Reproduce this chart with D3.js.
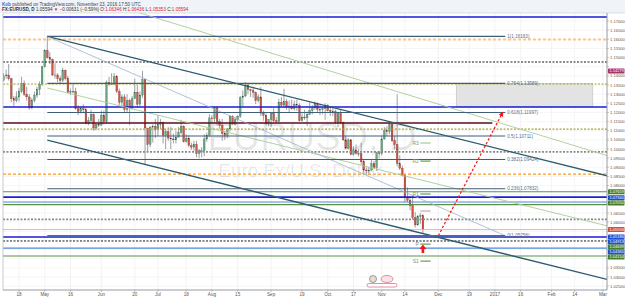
<!DOCTYPE html>
<html>
<head>
<meta charset="utf-8">
<script src="https://cdn.jsdelivr.net/npm/d3@7"></script>
<style>
  html, body { margin: 0; padding: 0; background: #fff; }
  svg { display: block; font-family: "Liberation Sans", Arial, sans-serif; }
</style>
</head>
<body>
<svg id="chart" width="625" height="299"></svg>
<script>
// --- Data ---
const firstBarDate = '2016-04-06';
// [open, high, low, close], one row per trading day
const bars = [
  [1.1385,1.1410,1.1350,1.1400],[1.1400,1.1440,1.1370,1.1375],[1.1375,1.1415,1.1370,1.1400],
  [1.1400,1.1435,1.1385,1.1405],[1.1405,1.1465,1.1375,1.1385],[1.1385,1.1390,1.1255,1.1275],[1.1275,1.1290,1.1235,1.1265],[1.1265,1.1315,1.1255,1.1285],
  [1.1285,1.1335,1.1260,1.1315],[1.1315,1.1395,1.1305,1.1360],[1.1360,1.1375,1.1290,1.1300],[1.1300,1.1340,1.1265,1.1285],[1.1285,1.1300,1.1215,1.1225],
  [1.1225,1.1280,1.1218,1.1265],[1.1265,1.1315,1.1255,1.1295],[1.1295,1.1340,1.1280,1.1325],[1.1325,1.1370,1.1295,1.1355],[1.1355,1.1455,1.1345,1.1450],
  [1.1450,1.1545,1.1445,1.1540],[1.1540,1.1616,1.1495,1.1500],[1.1500,1.1530,1.1465,1.1490],[1.1490,1.1495,1.1400,1.1405],[1.1405,1.1470,1.1385,1.1405],
  [1.1405,1.1415,1.1365,1.1385],[1.1385,1.1400,1.1360,1.1375],[1.1375,1.1445,1.1365,1.1430],[1.1430,1.1435,1.1375,1.1385],[1.1385,1.1400,1.1305,1.1310],
  [1.1310,1.1330,1.1295,1.1315],[1.1315,1.1355,1.1305,1.1315],[1.1315,1.1335,1.1215,1.1220],[1.1220,1.1240,1.1185,1.1205],[1.1205,1.1230,1.1195,1.1220],
  [1.1220,1.1245,1.1200,1.1215],[1.1215,1.1225,1.1135,1.1140],[1.1140,1.1175,1.1130,1.1155],[1.1155,1.1215,1.1145,1.1190],[1.1190,1.1195,1.1100,1.1115],
  [1.1115,1.1140,1.1105,1.1135],[1.1135,1.1165,1.1120,1.1130],[1.1130,1.1210,1.1130,1.1185],[1.1185,1.1210,1.1135,1.1150],[1.1150,1.1375,1.1140,1.1365],
  [1.1365,1.1395,1.1345,1.1355],[1.1355,1.1415,1.1350,1.1355],[1.1355,1.1415,1.1350,1.1395],[1.1395,1.1405,1.1305,1.1315],[1.1315,1.1330,1.1240,1.1255],
  [1.1255,1.1298,1.1233,1.1285],[1.1285,1.1300,1.1195,1.1215],[1.1215,1.1300,1.1200,1.1265],[1.1265,1.1275,1.1130,1.1225],[1.1225,1.1290,1.1215,1.1275],
  [1.1275,1.1385,1.1275,1.1310],[1.1310,1.1350,1.1225,1.1245],[1.1245,1.1315,1.1230,1.1295],[1.1295,1.1427,1.1280,1.1380],[1.1380,1.1385,1.0912,1.1115],
  [1.1115,1.1115,1.0985,1.1025],[1.1025,1.1125,1.1010,1.1120],[1.1120,1.1135,1.1035,1.1125],[1.1125,1.1165,1.1060,1.1105],[1.1105,1.1185,1.1070,1.1135],
  [1.1135,1.1165,1.1110,1.1145],[1.1145,1.1150,1.1030,1.1075],[1.1075,1.1110,1.1000,1.1095],[1.1095,1.1120,1.1045,1.1060],[1.1060,1.1120,1.1000,1.1055],
  [1.1055,1.1085,1.1030,1.1050],[1.1050,1.1100,1.1030,1.1065],[1.1065,1.1120,1.1065,1.1090],[1.1090,1.1160,1.1080,1.1125],[1.1125,1.1130,1.1035,1.1040],
  [1.1040,1.1080,1.1035,1.1060],[1.1060,1.1075,1.1010,1.1020],[1.1020,1.1035,1.0995,1.1010],[1.1010,1.1045,1.0990,1.1025],[1.1025,1.1045,1.0955,1.0975],
  [1.0975,1.1000,1.0950,1.0990],[1.0990,1.1010,1.0955,1.0990],[1.0990,1.1080,1.0960,1.1055],[1.1055,1.1090,1.1040,1.1075],[1.1075,1.1190,1.1065,1.1170],
  [1.1170,1.1185,1.1140,1.1165],[1.1165,1.1235,1.1145,1.1225],[1.1225,1.1235,1.1130,1.1150],[1.1150,1.1165,1.1110,1.1130],[1.1130,1.1165,1.1045,1.1085],
  [1.1085,1.1100,1.1050,1.1075],[1.1075,1.1115,1.1060,1.1110],[1.1110,1.1185,1.1095,1.1180],[1.1180,1.1185,1.1135,1.1135],[1.1135,1.1175,1.1130,1.1160],
  [1.1160,1.1185,1.1150,1.1180],[1.1180,1.1290,1.1170,1.1280],[1.1280,1.1320,1.1235,1.1290],[1.1290,1.1365,1.1285,1.1350],[1.1350,1.1355,1.1300,1.1325],
  [1.1325,1.1330,1.1285,1.1320],[1.1320,1.1340,1.1280,1.1310],[1.1310,1.1315,1.1245,1.1265],[1.1265,1.1300,1.1255,1.1285],[1.1285,1.1340,1.1180,1.1195],
  [1.1195,1.1210,1.1155,1.1185],[1.1185,1.1195,1.1130,1.1140],[1.1140,1.1165,1.1125,1.1160],[1.1160,1.1200,1.1120,1.1195],[1.1195,1.1225,1.1145,1.1155],
  [1.1155,1.1175,1.1145,1.1150],[1.1150,1.1275,1.1145,1.1255],[1.1255,1.1285,1.1230,1.1240],[1.1240,1.1330,1.1225,1.1260],[1.1260,1.1275,1.1215,1.1230],
  [1.1230,1.1265,1.1200,1.1235],[1.1235,1.1270,1.1215,1.1220],[1.1220,1.1265,1.1210,1.1245],[1.1245,1.1270,1.1210,1.1240],[1.1240,1.1250,1.1150,1.1155],
  [1.1155,1.1195,1.1150,1.1175],[1.1175,1.1215,1.1160,1.1170],[1.1170,1.1205,1.1125,1.1190],[1.1190,1.1255,1.1185,1.1210],[1.1210,1.1240,1.1190,1.1225],
  [1.1225,1.1260,1.1215,1.1250],[1.1250,1.1255,1.1200,1.1215],[1.1215,1.1240,1.1185,1.1215],[1.1215,1.1230,1.1190,1.1220],[1.1220,1.1250,1.1160,1.1240],
  [1.1240,1.1245,1.1205,1.1210],[1.1210,1.1235,1.1180,1.1205],[1.1205,1.1235,1.1180,1.1205],[1.1205,1.1215,1.1135,1.1145],[1.1145,1.1195,1.1120,1.1200],
  [1.1200,1.1215,1.1135,1.1145],[1.1145,1.1150,1.1045,1.1050],[1.1050,1.1070,1.1000,1.1005],[1.1005,1.1060,1.1000,1.1050],[1.1050,1.1055,1.0965,1.0970],
  [1.0970,1.1015,1.0965,1.0995],[1.0995,1.1025,1.0970,1.0975],[1.0975,1.1000,1.0960,1.0975],[1.0975,1.1035,1.0915,1.0930],[1.0930,1.0945,1.0865,1.0885],
  [1.0885,1.0900,1.0860,1.0880],[1.0880,1.0900,1.0860,1.0885],[1.0885,1.0945,1.0880,1.0920],[1.0920,1.0935,1.0895,1.0900],[1.0900,1.0985,1.0880,1.0980],
  [1.0980,1.0990,1.0950,1.0975],[1.0975,1.1075,1.0965,1.1055],[1.1055,1.1120,1.1050,1.1100],[1.1100,1.1125,1.1070,1.1095],[1.1095,1.1145,1.1080,1.1135],
  [1.1135,1.1140,1.1040,1.1045],[1.1045,1.1070,1.1000,1.1025],[1.1025,1.1300,1.0905,1.0920],[1.0920,1.0965,1.0885,1.0895],[1.0895,1.0910,1.0850,1.0855],
  [1.0855,1.0865,1.0710,1.0735],[1.0735,1.0790,1.0710,1.0720],[1.0720,1.0740,1.0665,1.0690],[1.0690,1.0745,1.0615,1.0625],[1.0625,1.0655,1.0570,1.0585],
  [1.0585,1.0640,1.0580,1.0630],[1.0630,1.0650,1.0590,1.0635],[1.06346,1.06436,1.05353,1.05594]
];

const xTickDates  = ['2016-04-18','2016-05-02','2016-05-16','2016-06-01','2016-06-20','2016-07-01','2016-07-18','2016-08-01','2016-08-15','2016-09-01','2016-09-19',
                     '2016-10-03','2016-10-17','2016-11-01','2016-11-14','2016-12-01','2016-12-19','2017-01-02','2017-01-16','2017-02-01','2017-02-14','2017-03-01'];
const xTickLabels = ['18','May','16','Jun','20','Jul','18','Aug','15','Sep','19','Oct','17','Nov','14','Dec','19','2017','16','Feb','14','Mar'];

// Full-width horizontal levels
const levelPrices = [1.1722, 1.1599, 1.1476, 1.1356, 1.1230, 1.1109, 1.0984, 1.0863, 1.0766, 1.0737, 1.0710, 1.0696, 1.0615, 1.0519, 1.0497, 1.0458, 1.0415];
const levelKinds  = ['blue','orangeLight','blackDash','oliveDash','blue','oliveDash','grayDash','orange','green','blue','lightBlue','green','grayDash','blue','blackDash','lightBlue','green'];

// Fibonacci retracement drawn from the May high to the projected low
const fibStart = ['2016-05-03', 1.16163];
const fibEnd   = ['2017-01-06', 1.05258];
const fibRatios = [1, 0.764, 0.618, 0.5, 0.382, 0.236, 0];

// Trend lines: [date, price] anchors, extended across the plot
const trendUpper  = [['2016-05-03', 1.1616], ['2016-11-04', 1.1150]];
const trendLower  = [['2016-05-03', 1.1049], ['2016-11-04', 1.0583]];
const greenUpper  = [['2016-06-22', 1.1744], ['2016-11-21', 1.1280]];
const greenLower  = [['2016-05-03', 1.1334], ['2016-11-21', 1.0835]];

const maroonLine  = [['2016-04-01', 1.1142], ['2016-12-30', 1.1142]];
const grayBox     = [['2016-12-12', 1.1359], ['2017-02-23', 1.1232]];
const forecastArrow = [['2016-12-01', 1.0526], ['2017-01-05', 1.1200]];
const buyMarker   = ['2016-11-23', 1.0453];

// Pivot levels shown next to the last bars
const pivotNames  = ['R3', 'R2', 'R1', 'P', 'S1', 'S2'];
const pivotPrices = [1.1033, 1.0934, 1.0754, 1.0661, 1.0480, 1.0387];
const pivotRange  = ['2016-11-22', '2016-11-28'];

// Price tags on the right scale
const tagPrices = [1.1427, 1.07659, 1.0734, 1.0705, 1.05594, 1.05186, 1.04913, 1.04639, 1.04365, 1.04092];
const tagTexts  = ['1.14279', '1.07659', '1.07340', '1.07050', '1.05594', '1.05186', '1.04913', '1.04639', '1.04365', '1.04154'];
const tagKinds  = ['magenta', 'green', 'blue', 'green', 'red', 'blue', 'blue', 'green', 'blue', 'green'];

// --- Layout ---
const W = 625, H = 299;
const plot = { left: 3, right: 607, top: 13, bottom: 290 };

const svg = d3.select('#chart');

// trading-day index relative to Mon 2016-04-18 (weekends skipped)
const refDay = Date.UTC(2016, 3, 18);
function tradingIndex(s) {
  const p = s.split('-').map(Number);
  const days = Math.round((Date.UTC(p[0], p[1] - 1, p[2]) - refDay) / 86400000);
  const weeks = Math.floor(days / 7);
  const rem = days - weeks * 7;
  return weeks * 5 + Math.min(rem, 5);
}

const x = d3.scaleLinear().domain([0, tradingIndex('2017-03-01')]).range([19, 603]);
const y = d3.scaleLinear().domain([1.0229, 1.1744]).range([plot.bottom, plot.top]);
const X = d => x(tradingIndex(d));

const colors = {
  up: '#6ba583', upBorder: '#225437',
  down: '#d75442', downBorder: '#5b1a13',
  wick: '#5d606b',
  grid: '#eef0f2',
  text: '#555'
};
const levelStyle = {
  blue:        { stroke: '#1b1bd8', width: 1.6, dash: null },
  lightBlue:   { stroke: '#4f86e0', width: 1.1, dash: null },
  green:       { stroke: '#5e9146', width: 1.1, dash: null },
  blackDash:   { stroke: '#1a1a1a', width: 1.1, dash: '2,1.5' },
  oliveDash:   { stroke: '#aaa12c', width: 1.1, dash: '2,1.5' },
  grayDash:    { stroke: '#8a8a8a', width: 1.8, dash: '2,1.5' },
  orange:      { stroke: '#ff9a1f', width: 1.1, dash: '3,2' },
  orangeLight: { stroke: '#ffc58a', width: 2.2, dash: '3,2' }
};
const tagColor = { magenta: '#a8336d', green: '#4a7c2c', blue: '#1f4fd0', red: '#d94b3c' };

// --- Background / header ---
svg.append('rect').attr('width', W).attr('height', H).attr('fill', '#fff');
svg.append('rect').attr('width', W).attr('height', plot.top).attr('fill', '#f0f3f7');

const head1 = svg.append('text').attr('x', 2).attr('y', 5.5).attr('font-size', 4.6).attr('fill', '#444');
head1.append('tspan').attr('fill', '#2f6fd0').attr('font-weight', 'bold').text('Kob');
head1.append('tspan').text(' published on TradingView.com, November 23, 2016 17:50 UTC');

const head2 = svg.append('text').attr('x', 2).attr('y', 11).attr('font-size', 4.6).attr('fill', '#333');
head2.append('tspan').attr('font-weight', 'bold').text('FX:EURUSD, D ');
head2.append('tspan').text('1.05594 ');
head2.append('tspan').attr('fill', '#d23').text('\u25BC');
head2.append('tspan').text(' \u22120.00631 (\u22120.59%) O:');
head2.append('tspan').attr('fill', '#d23').text('1.06346');
head2.append('tspan').text(' H:');
head2.append('tspan').attr('fill', '#d23').text('1.06436');
head2.append('tspan').text(' L:');
head2.append('tspan').attr('fill', '#d23').text('1.05353');
head2.append('tspan').text(' C:');
head2.append('tspan').attr('fill', '#d23').text('1.05594');

// --- Clip ---
svg.append('clipPath').attr('id', 'plotClip').append('rect')
  .attr('x', plot.left).attr('y', plot.top)
  .attr('width', plot.right - plot.left).attr('height', plot.bottom - plot.top);

const g = svg.append('g').attr('clip-path', 'url(#plotClip)');

// --- Grid ---
const yTicks = d3.range(1.025, 1.1701, 0.005);
g.append('g').selectAll('line').data(xTickDates).join('line')
  .attr('x1', d => X(d)).attr('x2', d => X(d))
  .attr('y1', plot.top).attr('y2', plot.bottom)
  .attr('stroke', colors.grid).attr('stroke-width', 0.8);
g.append('g').selectAll('line').data(yTicks).join('line')
  .attr('x1', plot.left).attr('x2', plot.right)
  .attr('y1', d => y(d)).attr('y2', d => y(d))
  .attr('stroke', '#f3f4f6').attr('stroke-width', 0.8);

// --- Watermark ---
g.append('text').attr('x', 312).attr('y', 150).attr('text-anchor', 'middle')
  .attr('font-size', 38).attr('fill', '#000').attr('fill-opacity', 0.09)
  .text('EURUSD, D');
g.append('text').attr('x', 300).attr('y', 177).attr('text-anchor', 'middle')
  .attr('font-size', 19).attr('fill', '#000').attr('fill-opacity', 0.09)
  .text('Euro Fx/U.S. Dollar');

// --- Gray target box ---
g.append('rect')
  .attr('x', X(grayBox[0][0])).attr('y', y(grayBox[0][1]))
  .attr('width', X(grayBox[1][0]) - X(grayBox[0][0]))
  .attr('height', y(grayBox[1][1]) - y(grayBox[0][1]))
  .attr('fill', '#e3e3e3').attr('stroke', '#c8c8c8').attr('stroke-width', 0.8);

// --- Candles ---
const i0 = tradingIndex(firstBarDate);
const bw = 1.7;
const candles = g.append('g').selectAll('g').data(bars).join('g');
candles.append('line')
  .attr('x1', (d, i) => x(i0 + i)).attr('x2', (d, i) => x(i0 + i))
  .attr('y1', d => y(d[1])).attr('y2', d => y(d[2]))
  .attr('stroke', colors.wick).attr('stroke-width', 0.6);
candles.append('rect')
  .attr('x', (d, i) => x(i0 + i) - bw / 2)
  .attr('y', d => y(Math.max(d[0], d[3])))
  .attr('width', bw)
  .attr('height', d => Math.max(0.6, Math.abs(y(d[0]) - y(d[3]))))
  .attr('fill', d => d[3] >= d[0] ? colors.up : colors.down)
  .attr('stroke', d => d[3] >= d[0] ? colors.upBorder : colors.downBorder)
  .attr('stroke-width', 0.25);

// --- Horizontal levels ---
g.append('g').selectAll('line').data(levelPrices).join('line')
  .attr('x1', plot.left).attr('x2', plot.right)
  .attr('y1', d => y(d)).attr('y2', d => y(d))
  .attr('stroke', (d, i) => levelStyle[levelKinds[i]].stroke)
  .attr('stroke-width', (d, i) => levelStyle[levelKinds[i]].width)
  .attr('stroke-dasharray', (d, i) => levelStyle[levelKinds[i]].dash);

// last price line
g.append('line').attr('x1', plot.left).attr('x2', plot.right)
  .attr('y1', y(bars[bars.length - 1][3])).attr('y2', y(bars[bars.length - 1][3]))
  .attr('stroke', '#f2a9a3').attr('stroke-width', 0.9);

g.append('line')
  .attr('x1', X(maroonLine[0][0])).attr('x2', X(maroonLine[1][0]))
  .attr('y1', y(maroonLine[0][1])).attr('y2', y(maroonLine[1][1]))
  .attr('stroke', '#5a0d1c').attr('stroke-width', 1.4);

// --- Trend lines (extended to the right plot edge) ---
function extended(pair) {
  const x1 = X(pair[0][0]), y1 = y(pair[0][1]), x2 = X(pair[1][0]), y2 = y(pair[1][1]);
  const k = (y2 - y1) / (x2 - x1);
  return [x1, y1, plot.right + 5, y1 + k * (plot.right + 5 - x1)];
}
function drawTrend(pair, stroke, width, extendLeft) {
  const e = extended(pair);
  let xs = e[0], ys = e[1];
  if (extendLeft) { const k = (e[3] - e[1]) / (e[2] - e[0]); xs = plot.left - 5; ys = e[1] + k * (xs - e[0]); }
  g.append('line').attr('x1', xs).attr('y1', ys).attr('x2', e[2]).attr('y2', e[3])
    .attr('stroke', stroke).attr('stroke-width', width);
}
drawTrend(greenUpper, '#a9cc95', 0.9, true);
drawTrend(greenLower, '#a9cc95', 0.9, false);
drawTrend(trendUpper, '#2a5b6e', 1.3, false);
drawTrend(trendLower, '#2a5b6e', 1.3, false);

// --- Fibonacci retracement ---
const fx1 = X(fibStart[0]), fx2 = X(fibEnd[0]);
const fibRange = fibStart[1] - fibEnd[1];
g.append('line').attr('x1', fx1).attr('y1', y(fibStart[1])).attr('x2', fx2).attr('y2', y(fibEnd[1]))
  .attr('stroke', '#9db3cf').attr('stroke-width', 0.8);
const fibG = g.append('g').selectAll('g').data(fibRatios).join('g');
fibG.append('line')
  .attr('x1', fx1).attr('x2', fx2)
  .attr('y1', r => y(fibEnd[1] + r * fibRange)).attr('y2', r => y(fibEnd[1] + r * fibRange))
  .attr('stroke', r => r === 0 ? '#3d6fa8' : '#3f5f78').attr('stroke-width', r => r === 0 ? 1.6 : 1.1);
fibG.append('text')
  .attr('x', fx2 + 2).attr('y', r => y(fibEnd[1] + r * fibRange) + 1.6)
  .attr('font-size', 4.6).attr('fill', '#5a6f86')
  .text(r => r + '(' + (fibEnd[1] + r * fibRange).toFixed(5) + ')');

// --- Pivots ---
const px1 = X(pivotRange[0]), px2 = X(pivotRange[1]);
const pivotColor = { R3: '#9cc488', R2: '#5e9146', R1: '#5e9146', P: '#c799ab', S1: '#5e9146', S2: '#5e9146' };
const pv = g.append('g').selectAll('g').data(pivotPrices).join('g');
pv.append('line').attr('x1', px1).attr('x2', px2)
  .attr('y1', d => y(d)).attr('y2', d => y(d))
  .attr('stroke', (d, i) => pivotColor[pivotNames[i]]).attr('stroke-width', 1.1);
pv.filter((d, i) => pivotNames[i] !== 'P').append('text')
  .attr('x', px1 - 1.5).attr('y', d => y(d) + 1.8).attr('text-anchor', 'end')
  .attr('font-size', 5).attr('fill', '#7c9a70')
  .text((d, i) => pivotNames[i]);

// --- Forecast arrow ---
svg.append('defs').append('marker').attr('id', 'ah')
  .attr('viewBox', '0 0 10 10').attr('refX', 8).attr('refY', 5)
  .attr('markerWidth', 4).attr('markerHeight', 4).attr('orient', 'auto')
  .append('path').attr('d', 'M0,0 L10,5 L0,10 z').attr('fill', '#f01818');
g.append('line')
  .attr('x1', X(forecastArrow[0][0])).attr('y1', y(forecastArrow[0][1]))
  .attr('x2', X(forecastArrow[1][0])).attr('y2', y(forecastArrow[1][1]))
  .attr('stroke', '#f01818').attr('stroke-width', 1.2).attr('stroke-dasharray', '2.5,1.8')
  .attr('marker-end', 'url(#ah)');

// buy marker (up arrow)
const bx = X(buyMarker[0]), by = y(buyMarker[1]);
g.append('path')
  .attr('d', `M${bx},${by - 4.5} L${bx + 3.5},${by} L${bx + 1.3},${by} L${bx + 1.3},${by + 4} L${bx - 1.3},${by + 4} L${bx - 1.3},${by} L${bx - 3.5},${by} Z`)
  .attr('fill', '#f01818');

// --- Frame and axes ---
svg.append('line').attr('x1', plot.left).attr('x2', plot.left).attr('y1', plot.top).attr('y2', plot.bottom)
  .attr('stroke', '#b9bcc2').attr('stroke-width', 0.8);
svg.append('line').attr('x1', plot.left).attr('x2', W).attr('y1', plot.top).attr('y2', plot.top)
  .attr('stroke', '#c9ccd2').attr('stroke-width', 0.6);
svg.append('line').attr('x1', plot.right).attr('x2', plot.right).attr('y1', plot.top).attr('y2', plot.bottom)
  .attr('stroke', '#8c8f96').attr('stroke-width', 0.9);
svg.append('line').attr('x1', plot.left).attr('x2', plot.right).attr('y1', plot.bottom).attr('y2', plot.bottom)
  .attr('stroke', '#8c8f96').attr('stroke-width', 0.9);

// y-axis labels (hidden where a price tag sits on top, as the platform does)
const tagYs = tagPrices.map(p => y(p));
const visibleTicks = yTicks.filter(t => tagYs.every(ty => Math.abs(ty - y(t)) > 4.5));
const yAx = svg.append('g');
yAx.selectAll('line').data(yTicks).join('line')
  .attr('x1', plot.right).attr('x2', plot.right + 2)
  .attr('y1', d => y(d)).attr('y2', d => y(d))
  .attr('stroke', '#8c8f96').attr('stroke-width', 0.5);
yAx.selectAll('text').data(visibleTicks).join('text')
  .attr('x', plot.right + 3).attr('y', d => y(d) + 1.5)
  .attr('font-size', 4.1).attr('fill', colors.text)
  .text(d => d.toFixed(5));

// x-axis labels
const xAx = svg.append('g');
xAx.selectAll('line').data(xTickDates).join('line')
  .attr('x1', d => X(d)).attr('x2', d => X(d))
  .attr('y1', plot.bottom).attr('y2', plot.bottom + 2)
  .attr('stroke', '#8c8f96').attr('stroke-width', 0.5);
xAx.selectAll('text').data(xTickLabels).join('text')
  .attr('x', (d, i) => X(xTickDates[i])).attr('y', 296)
  .attr('text-anchor', 'middle').attr('font-size', 4.6).attr('fill', colors.text)
  .text(d => d);

// price tags
const tg = svg.append('g').selectAll('g').data(tagPrices).join('g')
  .attr('transform', d => `translate(${plot.right + 1},${y(d)})`);
tg.append('rect').attr('x', 0).attr('y', -2.5).attr('width', 16.5).attr('height', 5).attr('rx', 0.6)
  .attr('fill', (d, i) => tagColor[tagKinds[i]]);
tg.append('text').attr('x', 1.5).attr('y', 1.4).attr('font-size', 4).attr('fill', '#fff')
  .text((d, i) => tagTexts[i]);

// TradingView badges near the bottom
const badge = svg.append('g').attr('transform', 'translate(370,282)');
badge.append('circle').attr('cx', 3).attr('cy', -3).attr('r', 3.5).attr('fill', '#f6d9b8').attr('stroke', '#3b6db8').attr('stroke-width', 0.6);
badge.append('ellipse').attr('cx', 17).attr('cy', -3).attr('rx', 6).attr('ry', 3.5).attr('fill', '#fbe3ea').attr('stroke', '#d0486a').attr('stroke-width', 0.6);
badge.append('rect').attr('x', -3).attr('y', 1.5).attr('width', 30).attr('height', 3.5).attr('rx', 1.7).attr('fill', '#fff').attr('stroke', '#d0486a').attr('stroke-width', 0.6);
</script>
</body>
</html>
